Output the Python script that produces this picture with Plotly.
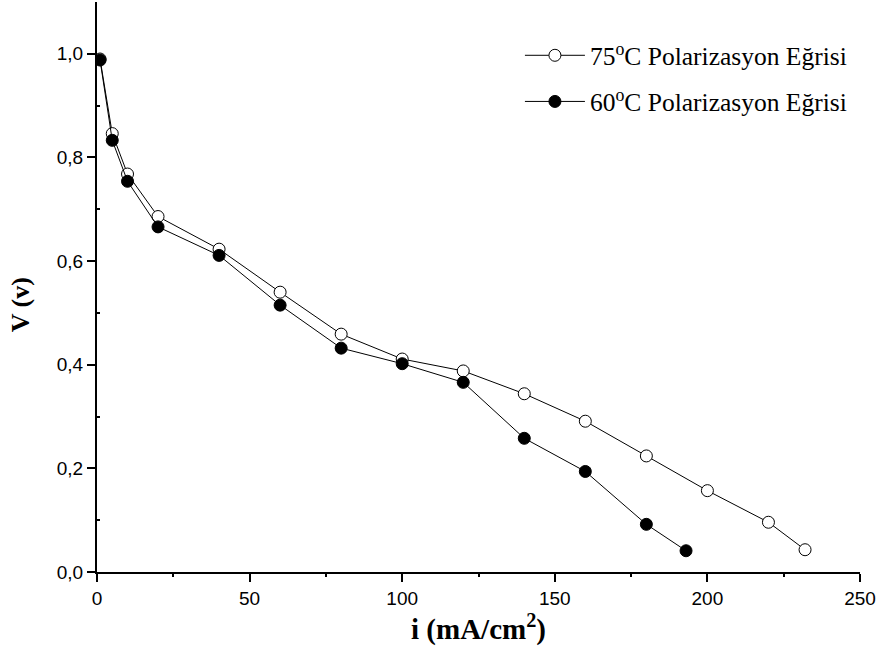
import plotly.graph_objects as go

current_75 = [1, 5, 10, 20, 40, 60, 80, 100, 120, 140, 160, 180, 200, 220, 232]
voltage_75 = [0.990, 0.846, 0.768, 0.686, 0.623, 0.540, 0.459, 0.411, 0.388, 0.344, 0.291, 0.224, 0.157, 0.096, 0.043]

current_60 = [1, 5, 10, 20, 40, 60, 80, 100, 120, 140, 160, 180, 193]
voltage_60 = [0.988, 0.833, 0.754, 0.666, 0.611, 0.515, 0.432, 0.402, 0.366, 0.258, 0.194, 0.092, 0.041]

x_ticks = [0, 50, 100, 150, 200, 250]
y_ticks = [0.0, 0.2, 0.4, 0.6, 0.8, 1.0]

fig = go.Figure()
fig.add_trace(go.Scatter(
    x=current_75, y=voltage_75, mode="lines+markers",
    name="75<sup>o</sup>C Polarizasyon Eğrisi", legendgroup="a",
    line=dict(color="black", width=1),
    marker=dict(symbol="circle", size=12, color="white", line=dict(color="black", width=1)),
))
fig.add_trace(go.Scatter(
    x=current_60, y=voltage_60, mode="lines+markers",
    name="60<sup>o</sup>C Polarizasyon Eğrisi", legendgroup="b",
    line=dict(color="black", width=1),
    marker=dict(symbol="circle", size=12, color="black", line=dict(color="black", width=1)),
))

fig.update_layout(
    width=886, height=653,
    margin=dict(l=97, r=26, t=2, b=81),
    paper_bgcolor="white", plot_bgcolor="white",
    separators=",.",
    showlegend=True,
    legend=dict(
        x=0.5543, y=0.947, xanchor="left", yanchor="top",
        font=dict(family="Liberation Serif", size=25.5, color="black"),
        bgcolor="rgba(0,0,0,0)", tracegroupgap=10, itemwidth=60,
    ),
    font=dict(family="Liberation Sans", color="black"),
    annotations=[dict(
        text="<b>V (v)</b>", xref="paper", yref="paper", x=-0.1009, y=0.468,
        xanchor="center", yanchor="middle", textangle=-90, showarrow=False,
        font=dict(family="Liberation Serif", size=26, color="black"),
    )],
)
fig.update_xaxes(
    range=[0, 250], tickvals=x_ticks, ticktext=[str(v) for v in x_ticks],
    showline=True, linecolor="black", linewidth=2, mirror=False,
    ticks="outside", ticklen=8, tickwidth=2, tickcolor="black",
    tickfont=dict(family="Liberation Sans", size=19, color="black"),
    minor=dict(dtick=25, ticks="outside", ticklen=3, tickwidth=2, tickcolor="black"),
    showgrid=False, zeroline=False,
    title=dict(text="<b>i (mA/cm<sup>2</sup>)</b>", font=dict(family="Liberation Serif", size=29, color="black"), standoff=8),
)
fig.update_yaxes(
    range=[0, 1.1], tickvals=y_ticks, tickformat=".1f",
    showline=True, linecolor="black", linewidth=2, mirror=False,
    ticks="outside", ticklen=8, tickwidth=2, tickcolor="black",
    tickfont=dict(family="Liberation Sans", size=19, color="black"),
    minor=dict(tickvals=[0.1, 0.3, 0.5, 0.7, 0.9], ticks="inside", ticklen=3, tickwidth=2, tickcolor="black"),
    showgrid=False, zeroline=False,
)

fig.write_html("out.html")
